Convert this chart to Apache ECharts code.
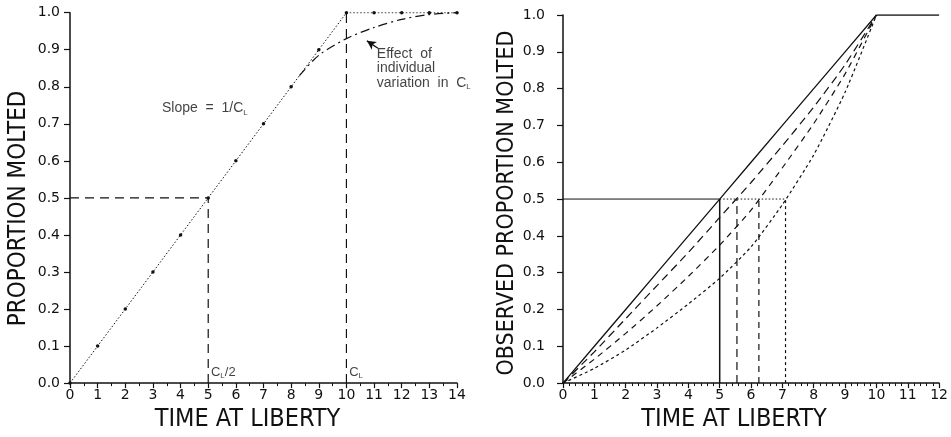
<!DOCTYPE html>
<html>
<head>
<meta charset="utf-8">
<script src="https://cdn.jsdelivr.net/npm/echarts@6/dist/echarts.min.js"></script>
<style>
html,body{margin:0;padding:0;background:#fff;}
#c{width:951px;height:437px;}
</style>
</head>
<body>
<div id="c"></div>
<script>
// ---------- DATA ----------
// Left panel: expected proportion molted (no individual variation)
const leftTime = [0,1,2,3,4,5,6,7,8,9,10,11,12,13,14];
const leftProportion = [0,0.1,0.2,0.3,0.4,0.5,0.6,0.7,0.8,0.9,1.0,1.0,1.0,1.0,1.0];
// Left panel: effect of individual variation in C_L (dash-dot curve)
const variationTime = [8.3,9,10,11,12,13,14];
const variationProportion = [0.83,0.885,0.93,0.96,0.982,0.995,1.0];
const halfCL = 5;      // C_L/2
const CL = 10;         // C_L
const halfLevel = 0.5;

// Right panel: observed proportion molted curves
const rightTime = [0,1,2,3,4,5,6,7,8,9,10];
const rightSolid = [0,0.1,0.2,0.3,0.4,0.5,0.6,0.7,0.8,0.9,1.0];
const rightLongDash = [0,0.085,0.175,0.265,0.355,0.45,0.545,0.645,0.75,0.865,1.0];
const rightMedDash = [0,0.065,0.135,0.21,0.29,0.375,0.47,0.585,0.705,0.84,1.0];
const rightShortDash = [0,0.04,0.09,0.15,0.215,0.285,0.37,0.485,0.62,0.79,1.0];
const plateauTime = [10,12];
const plateauLevel = [1.0,1.0];
// times at which each curve reaches 0.5
const halfTimes = [5,5.55,6.25,7.1];

// ---------- BUILD ----------
const zip = (xs, ys) => xs.map((x,i)=>[x, ys[i]]);
const INK = '#111';
const FONT = '"Liberation Sans", "DejaVu Sans", sans-serif';
const TICKFONT = '"DejaVu Sans", "Liberation Sans", sans-serif';
const NARROW = '"Liberation Sans Narrow", "DejaVu Sans Condensed", "Liberation Sans", sans-serif';

function xAxisCfg(gridIndex, max, minorSplit, shiftPad){
  return {
    type:'value', gridIndex, min:0, max, interval:1,
    name:'TIME AT LIBERTY', nameLocation:'middle', nameGap:14,
    nameTextStyle:{fontFamily:NARROW, fontSize:25, color:INK, padding:[0,shiftPad,0,0]},
    axisLine:{show:true, onZero:false, lineStyle:{color:INK, width:1.5}},
    axisTick:{show:true, inside:false, length:5, lineStyle:{color:INK, width:1.2}},
    minorTick:{show:true, splitNumber:minorSplit, length:3, lineStyle:{color:INK, width:1}},
    axisLabel:{fontFamily:TICKFONT, fontSize:14, color:INK, margin:5},
    splitLine:{show:false}
  };
}
function yAxisCfg(gridIndex, name, nameGap, fontSize, shiftPad, labelMargin){
  return {
    type:'value', gridIndex, min:0, max:1, interval:0.1,
    name, nameLocation:'middle', nameGap,
    nameTextStyle:{fontFamily:NARROW, fontSize, color:INK, padding:[0,shiftPad,0,0]},
    axisLine:{show:true, onZero:false, lineStyle:{color:INK, width:1.5}},
    axisTick:{show:true, inside:false, length:6, lineStyle:{color:INK, width:1.2}},
    axisLabel:{fontFamily:TICKFONT, fontSize:14, color:INK, margin:labelMargin, formatter:v=>v.toFixed(1)},
    splitLine:{show:false}
  };
}

function rich(size, lh){
  return {
    m:{fontFamily:FONT, fontSize:size, color:INK, verticalAlign:'middle', lineHeight:lh},
    s:{fontFamily:FONT, fontSize:Math.round(size*0.6), color:INK, verticalAlign:'bottom', lineHeight:lh}
  };
}

function line(data, xi, type, width, extra){
  return Object.assign({
    type:'line', xAxisIndex:xi, yAxisIndex:xi, data, showSymbol:false, symbol:'none',
    lineStyle:{color:INK, width, type}, silent:true, animation:false, z:3
  }, extra||{});
}

const series = [
  // Left: dotted line with dots
  {
    type:'line', xAxisIndex:0, yAxisIndex:0, data:zip(leftTime,leftProportion),
    symbol:'circle', symbolSize:3.5, showSymbol:true,
    itemStyle:{color:INK}, lineStyle:{color:INK, width:1, type:[1.5,2]}, animation:false, silent:true
  },
  // Left: dash-dot variation curve
  line(zip(variationTime, variationProportion), 0, [9,4,2,4], 1.2, {smooth:0.3,
    markLine:{silent:true, symbol:['none','arrow'], symbolSize:[7,9], label:{show:false},
      lineStyle:{color:INK, width:1.3, type:'solid'},
      data:[[{coord:[11.14,0.904]},{coord:[10.74,0.924]}]]}
  }),
  // Left: reference dashed lines
  line([[0,halfLevel],[halfCL,halfLevel]], 0, [9,6], 1.2),
  line([[halfCL,0],[halfCL,halfLevel]], 0, [9,6], 1.2),
  line([[CL,0],[CL,1.0]], 0, [9,6], 1.2),
  // Left: annotations
  {
    type:'scatter', xAxisIndex:0, yAxisIndex:0, symbolSize:0, silent:true, animation:false,
    data:[
      {value:[4.88,0.741], label:{show:true, position:'inside', formatter:'{m|Slope  =  1/C}{s|L}', rich:rich(14,16)}},
      {value:[5.1,0.03], label:{show:true, position:'right', distance:0, formatter:'{m|C}{s|L}{m|/2}', rich:rich(13,16)}},
      {value:[10.1,0.03], label:{show:true, position:'right', distance:0, formatter:'{m|C}{s|L}', rich:rich(13,16)}},
      {value:[11.1,0.849], label:{show:true, position:'right', distance:0,
        formatter:'{m|Effect  of}\n{m|individual}\n{m|variation  in  C}{s|L}', rich:rich(14,14.5)}}
    ]
  },
  // Right: curves
  line(zip(rightTime, rightSolid), 1, 'solid', 1.3),
  line(zip(rightTime, rightLongDash), 1, [8,5], 1.2, {smooth:0.2}),
  line(zip(rightTime, rightMedDash), 1, [6,5], 1.2, {smooth:0.2}),
  line(zip(rightTime, rightShortDash), 1, [3,3], 1.2, {smooth:0.2}),
  line(zip(plateauTime, plateauLevel), 1, 'solid', 1.3),
  // Right: 0.5 level and drop lines
  line([[0,halfLevel],[halfTimes[0],halfLevel]], 1, 'solid', 1),
  line([[halfTimes[0],halfLevel],[halfTimes[3],halfLevel]], 1, [1.5,2], 1),
  line([[halfTimes[0],0],[halfTimes[0],halfLevel]], 1, 'solid', 1.5),
  line([[halfTimes[1],0],[halfTimes[1],halfLevel]], 1, [8,5], 1.2),
  line([[halfTimes[2],0],[halfTimes[2],halfLevel]], 1, [6,5], 1.2),
  line([[halfTimes[3],0],[halfTimes[3],halfLevel]], 1, [3,3], 1.2)
];

const option = {
  animation:false,
  backgroundColor:'#fff',
  grid:[
    {left:70, right:494, top:12.7, bottom:46, containLabel:false},
    {left:563, right:9, top:15, bottom:46, containLabel:false}
  ],
  xAxis:[xAxisCfg(0,14,2,32), xAxisCfg(1,12,5,34)],
  yAxis:[
    yAxisCfg(0,'PROPORTION MOLTED',39,24,21,10),
    yAxisCfg(1,'OBSERVED PROPORTION MOLTED',36,23,8,18)
  ],
  series
};

const chart = echarts.init(document.getElementById('c'), null, {renderer:'canvas'});
chart.setOption(option);
</script>
</body>
</html>
